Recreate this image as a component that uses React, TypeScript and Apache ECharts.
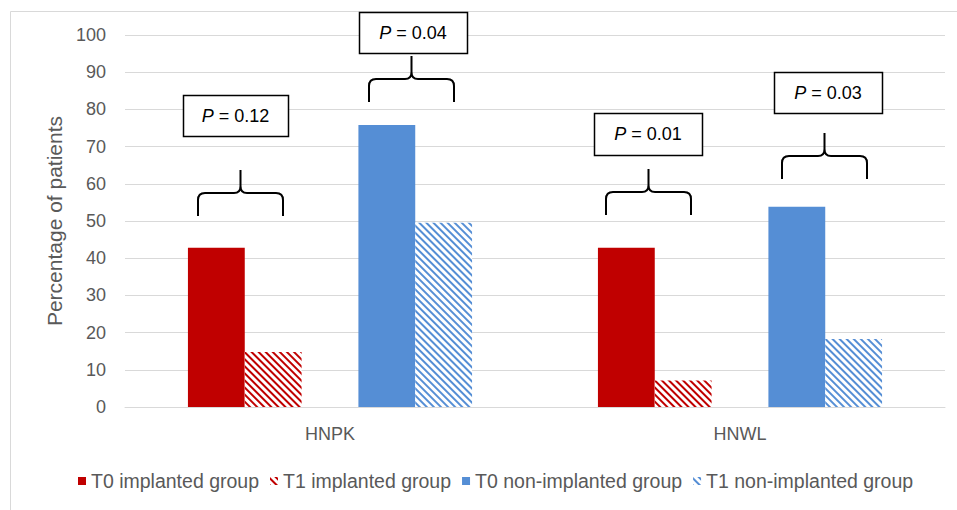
import React, { useEffect, useRef } from "react";
import * as echarts from "echarts";

const categories = ["HNPK", "HNWL"];
const t0Implanted = [42.8, 42.8];
const t1Implanted = [14.8, 7.1];
const t0NonImplanted = [75.8, 53.8];
const t1NonImplanted = [49.5, 18.3];
const seriesNames = [
  "T0 implanted group",
  "T1 implanted group",
  "T0 non-implanted group",
  "T1 non-implanted group",
];
const pValues = ["0.12", "0.04", "0.01", "0.03"];
const yTicks = { min: 0, max: 100, interval: 10 };

const BRACE_D =
  "M0 46 L0 30 Q0 23 7 23 L36 23 Q42.5 23 42.5 16 L42.5 0 M42.5 16 Q42.5 23 49 23 L78 23 Q85 23 85 30 L85 46";
echarts.graphic.registerShape("brace", echarts.graphic.extendPath(BRACE_D, {}) as any);

const FONT = "'Liberation Sans', Arial, sans-serif";
const RED = "#C00000";
const BLUE = "#558ED5";

function hatch(color: string) {
  return {
    color: "#ffffff",
    decal: {
      symbol: "rect",
      symbolSize: 1,
      dashArrayX: [1, 0],
      dashArrayY: [1.5, 3],
      rotation: Math.PI / 4,
      color,
    },
  };
}

// annotation layout (pixels)
const braces = [
  { x: 198, y: 170 },
  { x: 369, y: 56 },
  { x: 606, y: 169 },
  { x: 782, y: 133 },
];
const boxes = [
  { x: 183, y: 95, w: 105, h: 41 },
  { x: 359, y: 12, w: 108, h: 41 },
  { x: 594, y: 113, w: 108, h: 42 },
  { x: 774, y: 72, w: 108, h: 41 },
];

export default function App() {
  const ref = useRef<HTMLDivElement>(null);
  useEffect(() => {
    document.body.style.margin = "0";
    const chart = echarts.init(ref.current!, null, { renderer: "svg" });
    const graphic: any[] = [
      {
        type: "rect",
        shape: { x: 10.5, y: 11.5, width: 980, height: 520 },
        style: { fill: "none", stroke: "#d9d9d9", lineWidth: 1 },
        silent: true,
        z: -10,
      },
    ];
    braces.forEach((b) => {
      graphic.push({
        type: "brace",
        x: b.x,
        y: b.y,
        style: { fill: "none", stroke: "#000", lineWidth: 2 },
        z: 10,
      });
    });
    boxes.forEach((b, i) => {
      graphic.push({
        type: "rect",
        shape: { x: b.x + 0.5, y: b.y + 0.5, width: b.w, height: b.h },
        style: { fill: "#fff", stroke: "#000", lineWidth: 1.5 },
        z: 10,
      });
      graphic.push({
        type: "text",
        x: b.x + b.w / 2,
        y: b.y + b.h / 2,
        style: {
          text: "{i|P} = " + pValues[i],
          align: "center",
          verticalAlign: "middle",
          fontSize: 18,
          fontFamily: FONT,
          fill: "#000",
          rich: {
            i: { fontStyle: "italic", fontSize: 18, fontFamily: FONT, fill: "#000" },
          },
        },
        z: 11,
      });
    });

    chart.setOption({
      animation: false,
      grid: { left: 125, right: 12, top: 35, bottom: 103, containLabel: false },
      legend: {
        data: seriesNames,
        left: 73,
        top: 466,
        itemWidth: 8,
        itemHeight: 8,
        itemGap: 11,
        icon: "rect",
        textStyle: { fontSize: 19.5, color: "#595959", fontFamily: FONT },
      },
      xAxis: {
        type: "category",
        data: categories,
        axisTick: { show: false },
        axisLine: { lineStyle: { color: "#d9d9d9", width: 1 } },
        axisLabel: { fontSize: 18, color: "#595959", fontFamily: FONT, margin: 18 },
      },
      yAxis: {
        type: "value",
        min: yTicks.min,
        max: yTicks.max,
        interval: yTicks.interval,
        name: "Percentage of patients",
        nameLocation: "middle",
        nameGap: 56,
        nameTextStyle: { fontSize: 21, color: "#595959", fontFamily: FONT },
        axisLine: { show: false },
        axisTick: { show: false },
        splitLine: { lineStyle: { color: "#d9d9d9", width: 1 } },
        axisLabel: { fontSize: 18, color: "#595959", fontFamily: FONT, margin: 19 },
      },
      series: [
        {
          name: seriesNames[0],
          type: "bar",
          data: t0Implanted,
          barGap: "0%",
          barCategoryGap: "30.7%",
          itemStyle: { color: RED },
        },
        {
          name: seriesNames[1],
          type: "bar",
          data: t1Implanted,
          itemStyle: hatch(RED),
        },
        {
          name: "spacer",
          type: "bar",
          data: categories.map(() => "-"),
          itemStyle: { color: "transparent" },
        },
        {
          name: seriesNames[2],
          type: "bar",
          data: t0NonImplanted,
          itemStyle: { color: BLUE },
        },
        {
          name: seriesNames[3],
          type: "bar",
          data: t1NonImplanted,
          itemStyle: hatch(BLUE),
        },
      ],
      graphic,
    });
    return () => chart.dispose();
  }, []);
  return <div ref={ref} style={{ width: 957, height: 510 }} />;
}
